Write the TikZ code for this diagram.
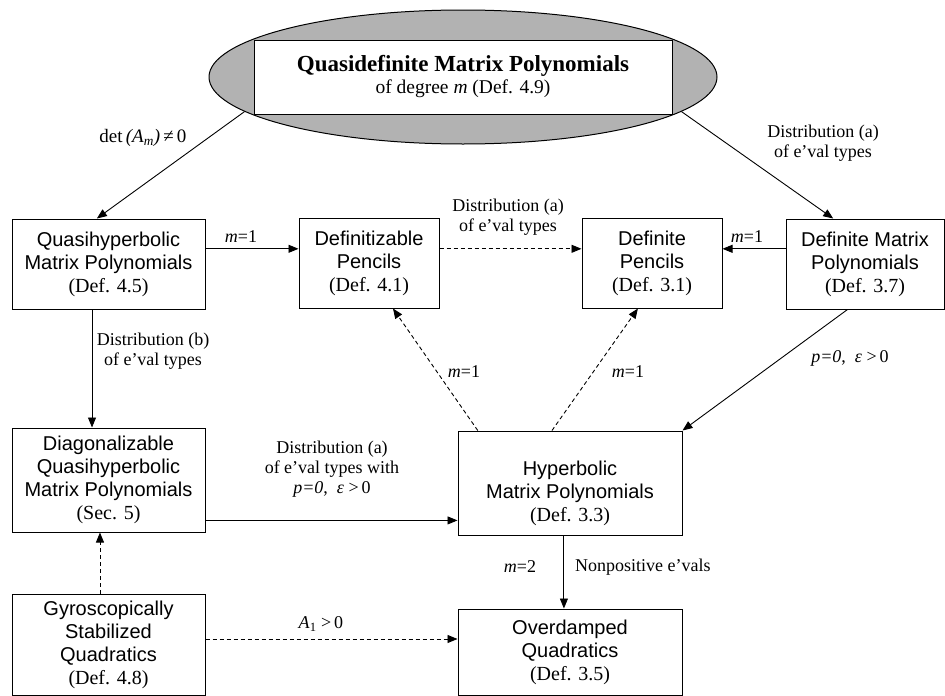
\documentclass[tikz,border=0pt]{standalone}
\usepackage{fontspec}
\setmainfont{Liberation Serif}
\newfontfamily\arialf{Liberation Sans}
\usetikzlibrary{arrows.meta,shapes.geometric,calc}
\begin{document}
\begin{tikzpicture}[x=1pt,y=-1pt,
  box/.style={draw, line width=1pt, inner sep=0pt, align=center, font=\arialf\fontsize{20}{23}\selectfont},
  lbl/.style={inner sep=0pt, align=center, font=\fontsize{18}{20}\selectfont},
  arr/.style={line width=0.9pt, -{Triangle[length=10pt,width=8pt]}},
  dsh/.style={arr, dash pattern=on 4pt off 3pt}]
\useasboundingbox (0,0) rectangle (945,696);
% top ellipse and title box
\node[ellipse, draw, line width=1pt, fill=black!30, minimum width=508pt, minimum height=134pt, inner sep=0pt] (ell) at (463,77) {};
\node[draw, line width=1pt, fill=white, minimum width=418pt, minimum height=74pt, inner sep=0pt, align=center, font=\fontsize{19.5}{22}\selectfont] (top) at (463,77) {{\bfseries\fontsize{23}{26}\selectfont Quasidefinite Matrix Polynomials}\\of degree \textit{m} (Def. 4.9)};
% boxes
\node[box, minimum width=193pt, minimum height=90pt] (qh) at (108.5,264) {Quasihyperbolic\\Matrix Polynomials\\{\rmfamily (Def. 4.5)}};
\node[box, minimum width=140pt, minimum height=90pt] (defz) at (369,263) {Definitizable\\Pencils\\{\rmfamily (Def. 4.1)}};
\node[box, minimum width=140pt, minimum height=90pt] (defp) at (652,263) {Definite\\Pencils\\{\rmfamily (Def. 3.1)}};
\node[box, minimum width=158pt, minimum height=90pt] (defm) at (865,264) {Definite Matrix\\Polynomials\\{\rmfamily (Def. 3.7)}};
\node[box, minimum width=193pt, minimum height=104pt] (diag) at (108.5,480) {Diagonalizable\\Quasihyperbolic\\Matrix Polynomials\\{\rmfamily (Sec. 5)}};
\node[box, minimum width=224pt, minimum height=104pt] (hyp) at (570,483) {\rule{0pt}{36pt}Hyperbolic\\Matrix Polynomials\\{\rmfamily (Def. 3.3)}};
\node[box, minimum width=193pt, minimum height=101pt] (gyro) at (108.5,644.5) {Gyroscopically\\Stabilized\\Quadratics\\{\rmfamily (Def. 4.8)}};
\node[box, minimum width=224pt, minimum height=86pt] (over) at (570,652) {Overdamped\\Quadratics\\{\rmfamily (Def. 3.5)}};
% helper coordinates on box borders
\path ($(qh.north east)!0.333!(qh.south east)$) coordinate (h1);
\path ($(qh.south west)!0.415!(qh.south east)$) coordinate (v1);
\path ($(diag.north east)!0.885!(diag.south east)$) coordinate (h2);
\path ($(gyro.north west)!0.456!(gyro.north east)$) coordinate (v2);
\path ($(gyro.north east)!0.446!(gyro.south east)$) coordinate (h3);
\path ($(hyp.south west)!0.473!(hyp.south east)$) coordinate (v3);
% connectors
\draw[arr] (ell.189) -- ($(qh.north west)!0.44!(qh.north east)$);
\draw[arr] (ell.351) -- ($(defm.north west)!0.30!(defm.north east)$);
\draw[arr] (h1) -- (h1 -| defz.west);
\draw[dsh] (h1 -| defz.east) -- (h1 -| defp.west);
\draw[arr] (h1 -| defm.west) -- (h1 -| defp.east);
\draw[arr] (v1) -- (v1 |- diag.north);
\draw[arr] ($(defm.south west)!0.39!(defm.south east)$) -- (hyp.north east);
\draw[dsh] ($(hyp.north west)!0.09!(hyp.north east)$) -- ($(defz.south west)!0.67!(defz.south east)$);
\draw[dsh] ($(hyp.north west)!0.42!(hyp.north east)$) -- ($(defp.south west)!0.4!(defp.south east)$);
\draw[arr] (h2) -- (h2 -| hyp.west);
\draw[dsh] (v2) -- (v2 |- diag.south);
\draw[dsh] (h3) -- (h3 -| over.west);
\draw[arr] (v3) -- (v3 |- over.north);
% labels
\node[lbl, font=\fontsize{19}{21}\selectfont] (l1) at (143,138) {det\,\textit{(A\textsubscript{m})}\,≠\,0};
\node[lbl] (l2) at (823,143) {Distribution (a)\\of e’val types};
\node[lbl] (l3) at (241,237) {\textit{m}=1};
\node[lbl] (l4) at (508,217) {Distribution (a)\\of e’val types};
\node[lbl] (l5) at (747,237) {\textit{m}=1};
\node[lbl] (l6) at (153,351) {Distribution (b)\\of e’val types};
\node[lbl] (l7) at (850,358) {\textit{p=0},\ \ \textit{ε} >\,0};
\node[lbl] (l8) at (464,372) {\textit{m}=1};
\node[lbl] (l9) at (628,372) {\textit{m}=1};
\node[lbl] (l10) at (332,469) {Distribution (a)\\of e’val types with\\\textit{p=0},\ \ \textit{ε} >\,0};
\node[lbl] (l11) at (321,624) {\textit{A}\textsubscript{1} >\,0};
\node[lbl] (l12) at (520,567) {\textit{m}=2};
\node[lbl, anchor=west] (l13) at (575,567) {Nonpositive e’vals};
\end{tikzpicture}
\end{document}
